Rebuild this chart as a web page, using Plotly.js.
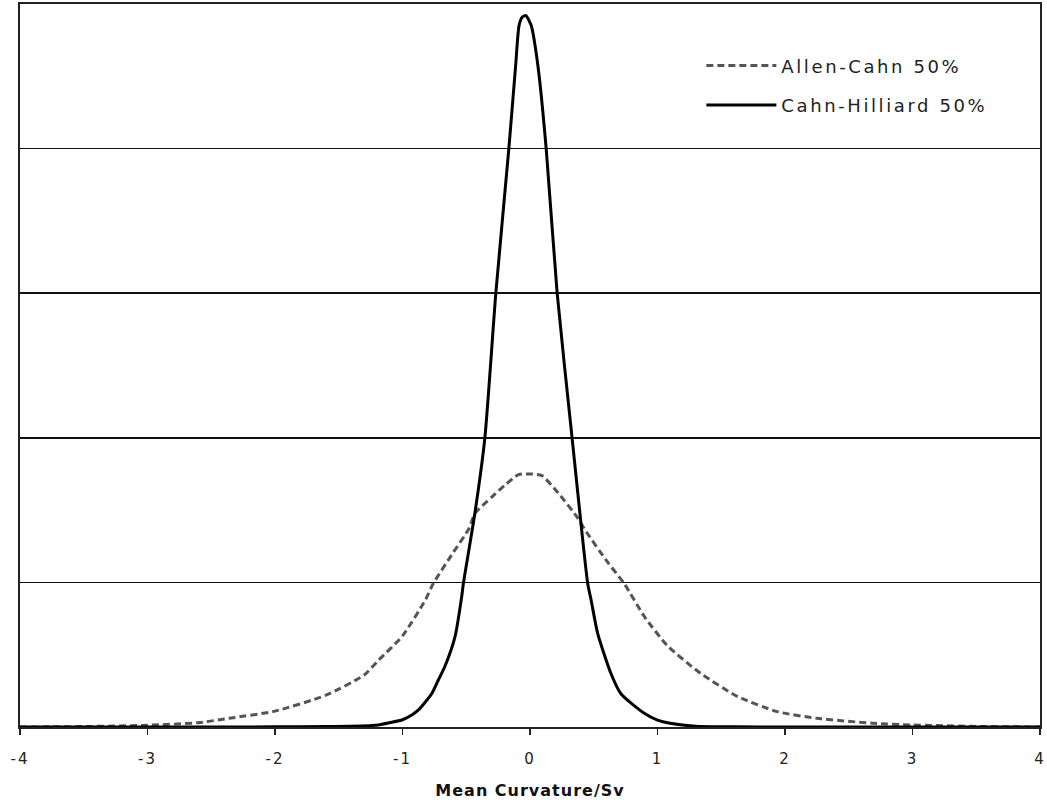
<!DOCTYPE html>
<html>
<head>
<meta charset="utf-8">
<script src="https://cdn.plot.ly/plotly-3.0.1.min.js"></script>
<style>
html,body{margin:0;padding:0;background:#fff;}
#chart{width:1047px;height:802px;}
.legendtext{letter-spacing:2.6px;}
.xtitle{letter-spacing:1px;}
.xtick text{letter-spacing:2px;}
</style>
</head>
<body>
<div id="chart"></div>
<script>
// Allen-Cahn 50% (dashed)
const allenX = [-4, -3.5, -3.0, -2.6, -2.36, -2.0, -1.6, -1.3, -1.19, -1.0, -0.82, -0.76, -0.6, -0.48, -0.43, -0.3, -0.2, -0.09, 0.0, 0.09, 0.22, 0.375, 0.43, 0.6, 0.74, 0.9, 1.08, 1.34, 1.63, 1.94, 2.25, 2.69, 3.0, 3.5, 4.0];
const allenY = [0, 0.003, 0.012, 0.03, 0.06, 0.11, 0.22, 0.36, 0.46, 0.63, 0.88, 0.99, 1.21, 1.37, 1.48, 1.59, 1.67, 1.745, 1.75, 1.74, 1.62, 1.445, 1.365, 1.15, 0.99, 0.76, 0.56, 0.37, 0.21, 0.106, 0.06, 0.026, 0.014, 0.004, 0];

// Cahn-Hilliard 50% (solid)
const cahnX = [-4, -2.5, -2.0, -1.6, -1.24, -1.19, -1.1, -1.0, -0.927, -0.875, -0.771, -0.719, -0.667, -0.588, -0.536, -0.523, -0.432, -0.354, -0.268, -0.166, -0.113, -0.086, -0.06, -0.031, -0.005, 0.01, 0.0625, 0.127, 0.213, 0.33, 0.453, 0.479, 0.53, 0.635, 0.713, 0.896, 1.0, 1.1, 1.3, 1.6, 2.0, 2.5, 3.0, 4.0];
const cahnY = [0, 0, 0.001, 0.003, 0.01, 0.014, 0.03, 0.05, 0.083, 0.118, 0.23, 0.325, 0.42, 0.625, 0.9, 0.99, 1.48, 2.0, 3.0, 4.0, 4.57, 4.85, 4.91, 4.92, 4.88, 4.85, 4.57, 4.0, 3.0, 2.0, 0.99, 0.88, 0.65, 0.37, 0.23, 0.095, 0.048, 0.026, 0.005, 0.001, 0, 0, 0, 0];

const tickVals = [-4, -3, -2, -1, 0, 1, 2, 3, 4];
const tickText = ["-4", "-3", "-2", "-1", "0", "1", "2", "3", "4"];
const seriesNames = ["Allen-Cahn 50%", "Cahn-Hilliard 50%"];
const xTitle = "Mean Curvature/Sv";

const FONT = "DejaVu Sans, Verdana, sans-serif";

const traces = [
  {x: allenX, y: allenY, name: seriesNames[0], type: "scatter", mode: "lines",
   legendgroup: "a",
   line: {color: "#555555", width: 3, dash: "7px,4px", shape: "spline", smoothing: 0.6}},
  {x: cahnX, y: cahnY, name: seriesNames[1], type: "scatter", mode: "lines",
   legendgroup: "b",
   line: {color: "#000000", width: 3, shape: "spline", smoothing: 0.6}}
];

const layout = {
  width: 1047, height: 802,
  margin: {l: 20, r: 7, t: 4, b: 75},
  paper_bgcolor: "#ffffff", plot_bgcolor: "#ffffff",
  font: {family: FONT, color: "#222"},
  showlegend: true,
  legend: {
    x: 0.668, y: 0.94, xanchor: "left", yanchor: "top",
    bgcolor: "rgba(0,0,0,0)", borderwidth: 0,
    font: {family: FONT, size: 18, color: "#222"},
    itemwidth: 70, tracegroupgap: 13
  },
  xaxis: {
    range: [-4, 4], tickvals: tickVals, ticktext: tickText,
    showgrid: false, zeroline: false,
    showline: true, mirror: true, linecolor: "#222", linewidth: 2,
    ticks: "outside", ticklen: 6, tickwidth: 1.5, tickcolor: "#222",
    tickfont: {family: FONT, size: 15, color: "#222"},
    ticklabelstandoff: 11, ticklabeloverflow: "allow",
    title: {text: xTitle, font: {family: FONT, size: 16, color: "#111", weight: "bold"}, standoff: 18}
  },
  yaxis: {
    range: [0, 5], dtick: 1, tick0: 0,
    showticklabels: false, ticks: "",
    showgrid: true, gridcolor: "#111", gridwidth: 1.5,
    zeroline: false,
    showline: true, mirror: true, linecolor: "#222", linewidth: 2
  }
};

Plotly.newPlot("chart", traces, layout, {displayModeBar: false, staticPlot: true});
</script>
</body>
</html>
